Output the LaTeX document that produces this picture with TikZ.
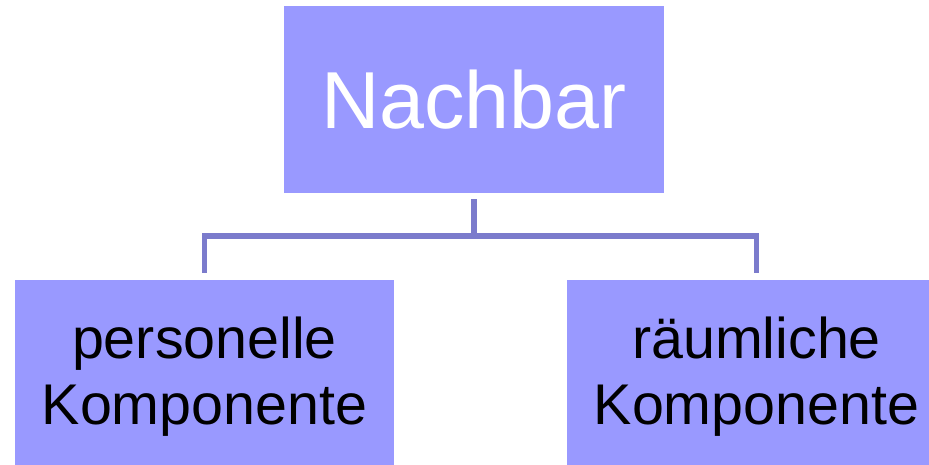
\documentclass[tikz,border=0pt]{standalone}
\usepackage{fontspec}
\setmainfont{Liberation Sans}
\definecolor{boxfill}{HTML}{9999FF}
\definecolor{linkcol}{HTML}{7B7BCC}
\tikzset{
  topbox/.style={rectangle, fill=boxfill, minimum width=11.4cm, minimum height=5.61cm,
    inner sep=0pt, text=white, font=\fontsize{69}{76}\selectfont},
  partbox/.style={rectangle, fill=boxfill, minimum width=11.37cm, minimum height=5.82cm,
    inner sep=0pt, align=center, font=\fontsize{49}{56.5}\selectfont},
  link/.style={draw=linkcol, line width=5pt}
}
\begin{document}
\begin{tikzpicture}[x=0.03cm, y=-0.03cm]
    \useasboundingbox (0,0) rectangle (929,464);
    \clip (0,0) rectangle (929,464);

    % Kästen
    \node[topbox] (top) at (474, 99.5) {Nachbar};
    \node[partbox] (left) at (204.5, 377) {personelle\\Komponente};
    \node[partbox] (right) at (756.5, 377) {räumliche\\Komponente};

    % Verbindungslinien
    \draw[link] ([yshift=-0.18cm]top.south) -- ++(0, 37) coordinate (fork);
    \draw[link] ([yshift=0.21cm]left.north) |- (fork) -| ([yshift=0.21cm]right.north);
\end{tikzpicture}
\end{document}
